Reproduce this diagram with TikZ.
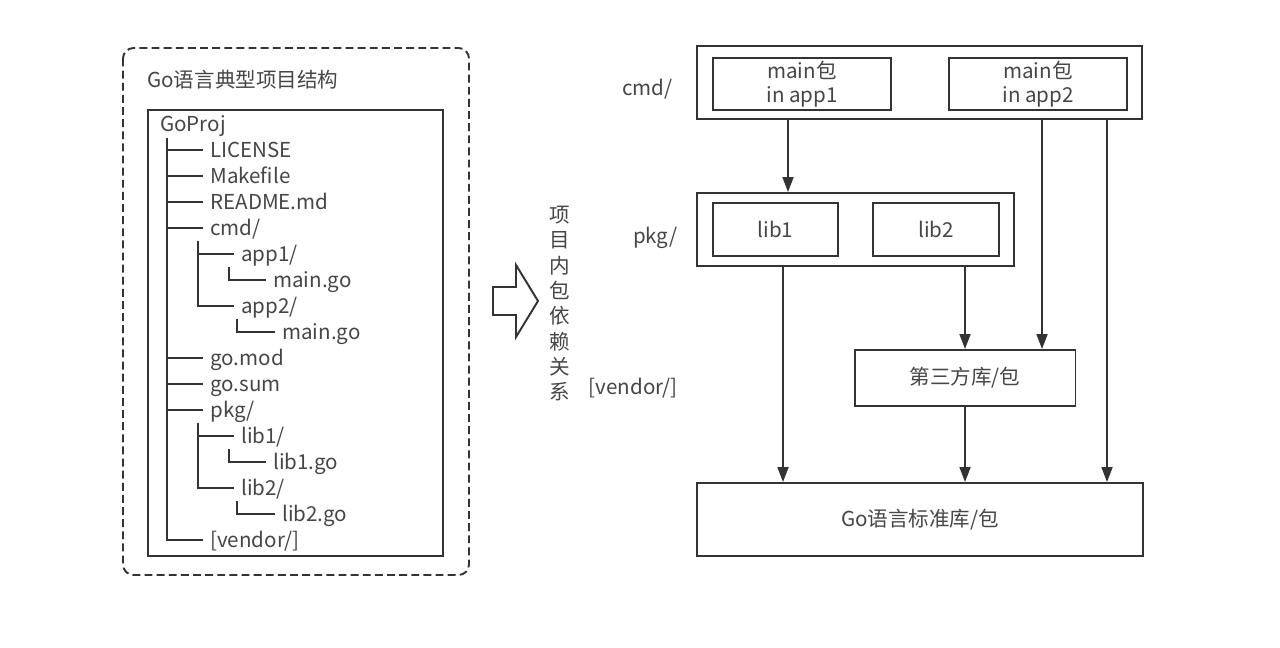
\documentclass[tikz,border=0pt]{standalone}
\usepackage{fontspec}
\setmainfont{Noto Sans CJK SC}
\usepackage{xcolor}
\definecolor{go-line}{HTML}{333333}
\definecolor{go-text}{HTML}{464646}
\usetikzlibrary{arrows.meta}

\tikzset{
  box/.style={draw=go-line, line width=1.1pt, inner sep=0pt, align=center, text=go-text},
  entry/.style={anchor=west, inner sep=0.15cm, text=go-text, text height=0.98em, text depth=0.16em},
  tree/.style={draw=go-line, line width=0.9pt},
  dep/.style={draw=go-line, line width=1pt, -{Triangle[length=0.3cm,width=0.22cm]}},
  layer/.style={anchor=east, inner sep=0pt, text=go-text},
}

\begin{document}
\begin{tikzpicture}[x=0.02cm, y=-0.02cm, font=\fontsize{11.7pt}{14pt}\selectfont]

    % Background
    \useasboundingbox (0,0) rectangle (1280,648);
    \fill[white] (0,0) rectangle (1280,648);

    % Project layout frame
    \draw[go-line, line width=1.1pt, dash pattern=on 4.5pt off 2.4pt, rounded corners=6pt] (123,48) rectangle (469,575);
    \node[anchor=west, inner sep=0pt, text=go-text] (title) at (147,80) {Go语言典型项目结构};
    \draw[go-line, line width=1.2pt] (148,110) rectangle (443,556);

    % Tree entries
    \node[entry] (goproj)   at (152.5,124) {GoProj};
    \node[entry] (license)  at (202.5,150) {LICENSE};
    \node[entry] (makefile) at (202.5,176) {Makefile};
    \node[entry] (readme)   at (202.5,202) {README.md};
    \node[entry] (cmd)      at (202.5,228) {cmd/};
    \node[entry] (app1)     at (233.5,254) {app1/};
    \node[entry] (main1)    at (265.5,280) {main.go};
    \node[entry] (app2)     at (233.5,306) {app2/};
    \node[entry] (main2)    at (274.5,332) {main.go};
    \node[entry] (gomod)    at (202.5,358) {go.mod};
    \node[entry] (gosum)    at (202.5,384) {go.sum};
    \node[entry] (pkg)      at (202.5,410) {pkg/};
    \node[entry] (lib1)     at (233.5,436) {lib1/};
    \node[entry] (lib1go)   at (265.5,462) {lib1.go};
    \node[entry] (lib2)     at (233.5,488) {lib2/};
    \node[entry] (lib2go)   at (274.5,514) {lib2.go};
    \node[entry] (vendor)   at (202.5,540) {[vendor/]};

    % Tree branches
    \coordinate (s0) at (167,138);
    \coordinate (s1) at (198,241);
    \coordinate (s2) at (229,267);
    \coordinate (s3) at (237,319);
    \coordinate (s4) at (198,423);
    \coordinate (s5) at (229,449);
    \coordinate (s6) at (237,501);
    \draw[tree] (s0) |- (vendor.west);
    \foreach \n in {license,makefile,readme,cmd,gomod,gosum,pkg}
        \draw[tree] (s0 |- \n.west) -- (\n.west);
    \draw[tree] (s1) |- (app2.west);
    \draw[tree] (s1 |- app1.west) -- (app1.west);
    \draw[tree] (s2) |- (main1.west);
    \draw[tree] (s3) |- (main2.west);
    \draw[tree] (s4) |- (lib2.west);
    \draw[tree] (s4 |- lib1.west) -- (lib1.west);
    \draw[tree] (s5) |- (lib1go.west);
    \draw[tree] (s6) |- (lib2go.west);

    % Hollow arrow
    \draw[go-line, line width=1.1pt, line join=miter]
        (493,287) -- (516,287) -- (516,265) -- (538,301) -- (516,337) -- (516,315) -- (493,315) -- cycle;

    % Vertical caption
    \foreach \c [count=\i] in {项,目,内,包,依,赖,关,系}
        \node[text=go-text, inner sep=0pt] (cap\i) at (560,{215+25.3*(\i-1)}) {\c};

    % Layer labels
    \node[layer] (lcmd)    at (673,89)  {cmd/};
    \node[layer] (lpkg)    at (678,238) {pkg/};
    \node[layer] (lvendor) at (678,388) {[vendor/]};

    % Packages
    \node[box, minimum width=8.9cm, minimum height=1.46cm] (cmdgrp) at (919.5,82.5) {};
    \node[box, minimum width=3.56cm, minimum height=1.04cm] (mainapp1) at (802,84) {main包\\in app1};
    \node[box, minimum width=3.56cm, minimum height=1.04cm] (mainapp2) at (1038,84) {main包\\in app2};
    \node[box, minimum width=6.34cm, minimum height=1.46cm] (pkggrp) at (855.5,229.5) {};
    \node[box, minimum width=2.5cm, minimum height=1.06cm] (plib1) at (775.5,229.5) {lib1};
    \node[box, minimum width=2.52cm, minimum height=1.06cm] (plib2) at (936,229.5) {lib2};
    \node[box, minimum width=4.42cm, minimum height=1.12cm] (third) at (965,378) {第三方库/包};
    \node[box, minimum width=8.92cm, minimum height=1.46cm] (std) at (920,519.5) {Go语言标准库/包};

    % Dependencies
    \coordinate (xa) at (788,0);
    \coordinate (xb) at (783,0);
    \coordinate (xd) at (1042,0);
    \coordinate (xe) at (1107,0);
    \draw[dep] (cmdgrp.south -| xa) -- (pkggrp.north -| xa);
    \draw[dep] (pkggrp.south -| xb) -- (std.north -| xb);
    \draw[dep] (pkggrp.south -| third) -- (third.north);
    \draw[dep] (cmdgrp.south -| xd) -- (third.north -| xd);
    \draw[dep] (third.south) -- (std.north -| third);
    \draw[dep] (cmdgrp.south -| xe) -- (std.north -| xe);

\end{tikzpicture}
\end{document}
